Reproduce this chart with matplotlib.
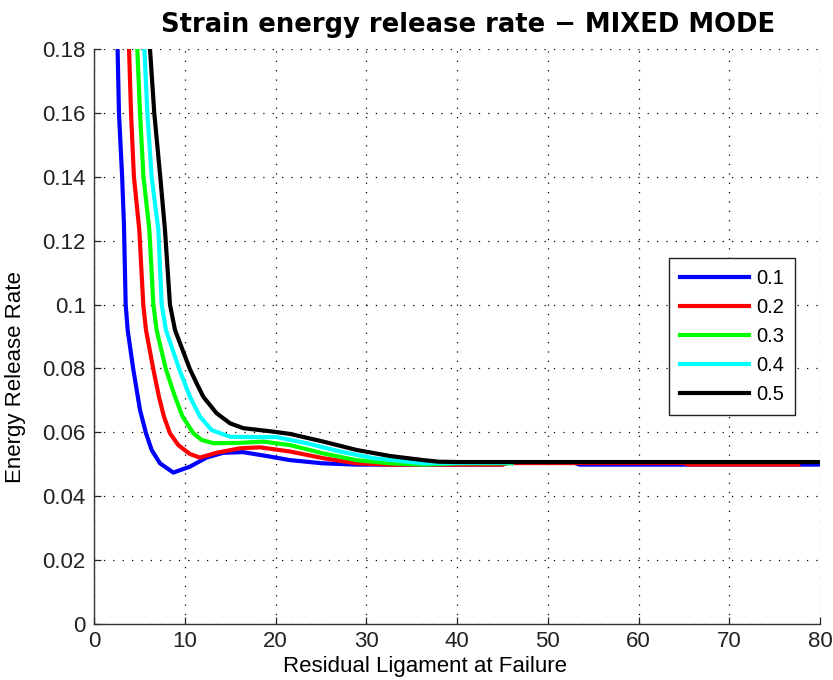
import matplotlib
matplotlib.use("Agg")
import matplotlib.pyplot as plt

plt.rcParams["font.family"] = ["Liberation Sans", "DejaVu Sans"]

# Residual ligament (x) and energy release rate (y) for each mode-mixity value
x_01 = [2.45, 2.6, 2.75, 3.1, 3.3, 3.49, 3.71, 4.33, 5.07, 5.73, 6.35, 7.27, 8.74, 10.6,
        12.4, 14.25, 16.4, 19.0, 21.6, 25.2, 28.9, 45.0, 45.5, 53.0, 53.5, 80.0]
y_01 = [0.20, 0.18, 0.16, 0.14, 0.125, 0.10, 0.092, 0.0797, 0.067, 0.0597, 0.0545, 0.0503,
        0.0474, 0.0493, 0.0521, 0.0536, 0.0538, 0.0526, 0.0513, 0.0503, 0.0499, 0.0499,
        0.0504, 0.0504, 0.0499, 0.0499]

x_02 = [3.7, 3.86, 4.08, 4.4, 4.99, 5.43, 5.73, 6.54, 7.16, 7.71, 8.37, 9.29, 10.58,
        11.68, 13.5, 16.09, 18.29, 21.6, 25.27, 28.9, 32.6, 45.0, 45.5, 65.0, 65.5, 77.6]
y_02 = [0.20, 0.18, 0.16, 0.14, 0.1234, 0.10, 0.092, 0.0797, 0.0711, 0.0649, 0.0597, 0.056,
        0.0532, 0.0521, 0.0536, 0.0550, 0.0553, 0.0540, 0.0519, 0.0503, 0.0499, 0.0499,
        0.0504, 0.0504, 0.0499, 0.0499]

x_03 = [4.5, 4.77, 5.07, 5.45, 6.1, 6.54, 6.9, 7.93, 8.93, 9.77, 10.95, 11.86, 13.15, 16.09,
        18.66, 21.6, 25.27, 28.9, 32.6, 36.3, 40.0, 46.0]
y_03 = [0.20, 0.18, 0.16, 0.14, 0.1234, 0.10, 0.092, 0.0797, 0.0711, 0.0649, 0.0597, 0.0576,
        0.0566, 0.0567, 0.0571, 0.0560, 0.0534, 0.0513, 0.0503, 0.0499, 0.0503, 0.0503]

x_04 = [5.3, 5.55, 5.88, 6.35, 7.09, 7.46, 7.93, 9.4, 10.58, 11.68, 12.97, 15.0, 17.9, 20.1,
        23.4, 27.1, 30.8, 36.3, 40.0, 46.0]
y_04 = [0.20, 0.18, 0.16, 0.14, 0.1234, 0.10, 0.092, 0.0797, 0.0711, 0.0649, 0.0607, 0.0586,
        0.0585, 0.0585, 0.0566, 0.0540, 0.0519, 0.0503, 0.0504, 0.0505]

x_05 = [5.8, 6.17, 6.64, 7.3, 7.82, 8.37, 8.93, 10.58, 11.3, 12.05, 13.5, 15.0, 16.46,
        19.8, 21.6, 25.27, 28.9, 32.6, 36.3, 38.0, 40.3, 80.0]
y_05 = [0.20, 0.18, 0.16, 0.14, 0.1234, 0.10, 0.092, 0.0797, 0.0754, 0.0711, 0.066,
        0.0628, 0.0613, 0.0602, 0.0595, 0.0571, 0.0545, 0.0526, 0.0513, 0.0508, 0.0507, 0.0507]

series = [
    ("0.1", x_01, y_01, "#0000ff"),
    ("0.2", x_02, y_02, "#ff0000"),
    ("0.3", x_03, y_03, "#00ff00"),
    ("0.4", x_04, y_04, "#00ffff"),
    ("0.5", x_05, y_05, "#000000"),
]

x_ticks = [0, 10, 20, 30, 40, 50, 60, 70, 80]
y_ticks = [0, 0.02, 0.04, 0.06, 0.08, 0.10, 0.12, 0.14, 0.16, 0.18]
y_tick_labels = ["0", "0.02", "0.04", "0.06", "0.08", "0.1", "0.12", "0.14", "0.16", "0.18"]

fig = plt.figure(figsize=(8.33, 6.8), dpi=100)
ax = fig.add_axes([94 / 833, 1 - 624 / 680, 726 / 833, 575 / 680])

for label, xs, ys, color in series:
    ax.plot(xs, ys, color=color, linewidth=3, label=label, solid_joinstyle="round")

ax.set_xlim(0, 80)
ax.set_ylim(0, 0.18)
ax.set_xticks(x_ticks)
ax.set_xticklabels([str(t) for t in x_ticks])
ax.set_yticks(y_ticks)
ax.set_yticklabels(y_tick_labels)
ax.tick_params(direction="in", length=5, labelsize=16, colors="#222222", width=0.9)
ax.tick_params(axis="y", pad=6)
ax.tick_params(axis="x", pad=5)
ax.grid(True, linestyle=(0, (1, 6.5)), color="black", linewidth=0.9)

ax.spines["top"].set_visible(False)
ax.spines["right"].set_visible(False)
for s in ("left", "bottom"):
    ax.spines[s].set_color("#333333")
    ax.spines[s].set_linewidth(1.0)

ax.set_xlabel("Residual Ligament at Failure", fontsize=16)
ax.xaxis.set_label_coords(0.4566, -0.0557)
ax.set_ylabel("Energy Release Rate", fontsize=16)
ax.yaxis.set_label_coords(-0.094, 0.4296)
ax.set_title("Strain energy release rate \u2212 MIXED MODE", fontsize=18.6,
             fontweight="bold", family="DejaVu Sans", pad=12.5, x=0.5157)

leg = ax.legend(loc="upper right", bbox_to_anchor=(0.9656, 0.6365), borderaxespad=0,
                fontsize=14.5, handlelength=3.4, handletextpad=0.35, labelspacing=0.5,
                borderpad=0.55, fancybox=False, framealpha=1, edgecolor="#222222")
leg.get_frame().set_linewidth(1.0)

fig.savefig("out.png", dpi=100)
